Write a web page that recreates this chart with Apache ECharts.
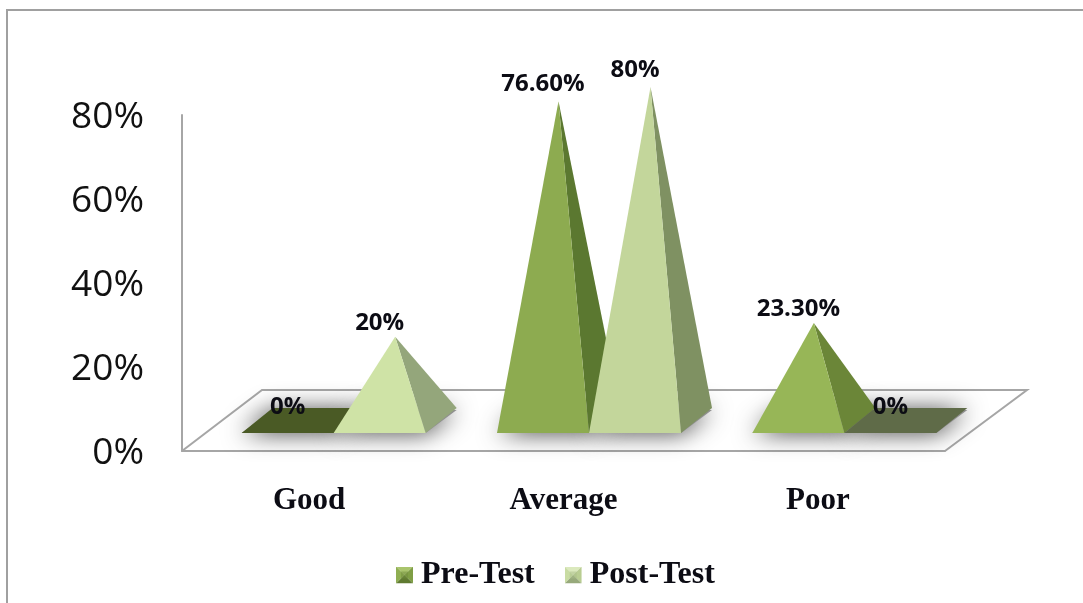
<!DOCTYPE html>
<html>
<head>
<meta charset="utf-8">
<style>
  html, body { margin: 0; padding: 0; background: #ffffff; }
  #chart { width: 1083px; height: 603px; }
</style>
</head>
<body>
<div id="chart"></div>
<script src="https://cdn.jsdelivr.net/npm/echarts@6/dist/echarts.min.js"></script>
<script>
var categories = ['Good', 'Average', 'Poor'];
var preTest = [0, 76.6, 23.3];
var postTest = [20, 80, 0];
var preLabels = ['0%', '76.60%', '23.30%'];
var postLabels = ['20%', '80%', '0%'];
var tickValues = [0, 20, 40, 60, 80];

var chart = echarts.init(document.getElementById('chart'));

// front / side colours per category
var preFront = ['#4a5a25', '#8dab50', '#97b657'];
var preSide = ['#4a5a25', '#5b7830', '#6b8638'];
var postFront = ['#cfe3a6', '#c3d69b', '#5f6b48'];
var postSide = ['#94a67b', '#7f9162', '#5f6b48'];

// pyramid base size in pixels
var baseW = 92;
var depthX = 31;
var depthY = 25;

// little bevelled legend square
function bevelIcon(top, left, right, bottom, mid) {
  var svg = '<svg xmlns="http://www.w3.org/2000/svg" width="17" height="17">' +
    '<polygon points="0,0 17,0 8.5,8.5" fill="' + top + '"/>' +
    '<polygon points="0,0 0,17 8.5,8.5" fill="' + left + '"/>' +
    '<polygon points="17,0 17,17 8.5,8.5" fill="' + right + '"/>' +
    '<polygon points="0,17 17,17 8.5,8.5" fill="' + bottom + '"/>' +
    '<rect x="5" y="5" width="7" height="7" fill="' + mid + '" opacity="0.5"/></svg>';
  return 'image://data:image/svg+xml;charset=utf-8,' + encodeURIComponent(svg);
}

// blurred floor shadow, drawn in its own series so it stays under every pyramid
function baseShadow(dir) {
  return function (params, api) {
    var i = api.value(0);
    var split = api.coord([i, 0]);
    var fy = split[1] + 13;
    var by = fy - depthY;
    var x0 = dir < 0 ? split[0] - baseW : split[0];
    var x1 = x0 + baseW;
    return {
      type: 'polygon',
      shape: { points: [[x0, fy], [x1, fy], [x1 + depthX, by + 2], [x0 + depthX, by + 2]] },
      style: { fill: '#909090', shadowBlur: 24, shadowColor: 'rgba(60,60,60,1)' }
    };
  };
}

function pyramid(dir, front, side, labels) {
  return function (params, api) {
    var i = api.value(0);
    var v = api.value(1);
    var top = api.coord([i, v]);
    var zero = api.coord([i, 0]);
    var fy = zero[1] + 13;
    var by = fy - depthY;
    var x0 = dir < 0 ? top[0] - baseW : top[0];
    var x1 = x0 + baseW;
    var apex = [x0 + baseW / 2 + depthX / 2, top[1]];
    var children = [];
    if (v === 0) {
      children.push({
        type: 'polygon',
        shape: { points: [[x0, fy], [x1, fy], [x1 + depthX, by], [x0 + depthX, by]] },
        style: { fill: front[i] }
      });
    } else {
      children.push({
        type: 'polygon',
        shape: { points: [[x1, fy], [x1 + depthX, by], apex] },
        style: { fill: side[i] }
      });
      children.push({
        type: 'polygon',
        shape: { points: [[x0, fy], [x1, fy], apex] },
        style: { fill: front[i] }
      });
    }
    children.push({
      type: 'text',
      z2: 100,
      style: {
        text: labels[i],
        x: x0 + baseW / 2,
        y: top[1] - (13 + v / 20),
        align: 'center',
        verticalAlign: 'middle',
        fill: '#0c0c14',
        font: 'bold 24px "Open Sans"'
      }
    });
    return { type: 'group', children: children };
  };
}

// wall and floor outline, worked out from the plot rectangle
function floorOutline(params) {
  var g = params.coordSys;
  var left = g.x, right = g.x + g.width, base = g.y + g.height;
  return {
    type: 'polyline',
    shape: { points: [[left, base], [left + 80, base - 61], [right + 82, base - 61], [right, base]] },
    style: { fill: null, stroke: '#a6a6a6', lineWidth: 2 },
    silent: true
  };
}

function toPoints(values) {
  return values.map(function (v, i) { return [i, v]; });
}

chart.setOption({
  backgroundColor: '#ffffff',
  animation: false,
  graphic: [{
    type: 'polyline',
    shape: { points: [[7, 603], [7, 10], [1083, 10]] },
    style: { fill: null, stroke: '#a0a0a0', lineWidth: 2 }
  }],
  legend: {
    left: 391,
    top: 554,
    itemWidth: 17,
    itemHeight: 17,
    itemGap: 30,
    data: [
      { name: 'Pre-Test', icon: bevelIcon('#a9c46c', '#8fae52', '#7f9e45', '#5f7a30', '#6f8c3a') },
      { name: 'Post-Test', icon: bevelIcon('#dbe9bd', '#c9dca3', '#b9cd92', '#97a97b', '#a9bd88') }
    ],
    textStyle: {
      fontFamily: '"Liberation Serif"',
      fontWeight: 'bold',
      fontSize: 32,
      color: '#0c0c14',
      padding: [0, 0, 0, 3]
    }
  },
  grid: [
    { left: 182, top: 115, width: 763, height: 336 },
    { left: 206, top: 87, width: 766, height: 333 }
  ],
  xAxis: [
    {
      type: 'category',
      gridIndex: 0,
      data: categories,
      axisLine: { lineStyle: { color: '#a6a6a6', width: 2 } },
      axisTick: { show: false },
      axisLabel: {
        margin: 34,
        color: '#0c0c14',
        fontFamily: '"Liberation Serif"',
        fontWeight: 'bold',
        fontSize: 31
      }
    },
    { type: 'category', gridIndex: 1, data: categories, show: false }
  ],
  yAxis: [
    {
      type: 'value',
      gridIndex: 0,
      min: tickValues[0],
      max: tickValues[tickValues.length - 1],
      interval: 20,
      axisLine: { show: true, lineStyle: { color: '#a6a6a6', width: 2 } },
      axisTick: { show: false },
      splitLine: { show: false },
      axisLabel: {
        margin: 38,
        color: '#111111',
        fontFamily: '"Open Sans"',
        fontSize: 37,
        verticalAlign: 'top',
        lineHeight: 4,
        formatter: '{value}%'
      }
    },
    { type: 'value', gridIndex: 1, min: 0, max: 80, show: false, splitLine: { show: false } }
  ],
  series: [
    {
      type: 'custom',
      xAxisIndex: 0,
      yAxisIndex: 0,
      silent: true,
      z: 1,
      data: [0],
      renderItem: floorOutline
    },
    {
      type: 'custom',
      xAxisIndex: 1,
      yAxisIndex: 1,
      silent: true,
      clip: false,
      z: 2,
      data: toPoints(preTest),
      encode: { x: 0, y: 1 },
      renderItem: baseShadow(-1)
    },
    {
      type: 'custom',
      xAxisIndex: 1,
      yAxisIndex: 1,
      silent: true,
      clip: false,
      z: 2,
      data: toPoints(postTest),
      encode: { x: 0, y: 1 },
      renderItem: baseShadow(1)
    },
    {
      name: 'Pre-Test',
      type: 'custom',
      xAxisIndex: 1,
      yAxisIndex: 1,
      clip: false,
      z: 3,
      itemStyle: { color: '#8dab50' },
      data: toPoints(preTest),
      encode: { x: 0, y: 1 },
      renderItem: pyramid(-1, preFront, preSide, preLabels)
    },
    {
      name: 'Post-Test',
      type: 'custom',
      xAxisIndex: 1,
      yAxisIndex: 1,
      clip: false,
      z: 4,
      itemStyle: { color: '#c3d69b' },
      data: toPoints(postTest),
      encode: { x: 0, y: 1 },
      renderItem: pyramid(1, postFront, postSide, postLabels)
    }
  ]
});
</script>
</body>
</html>
